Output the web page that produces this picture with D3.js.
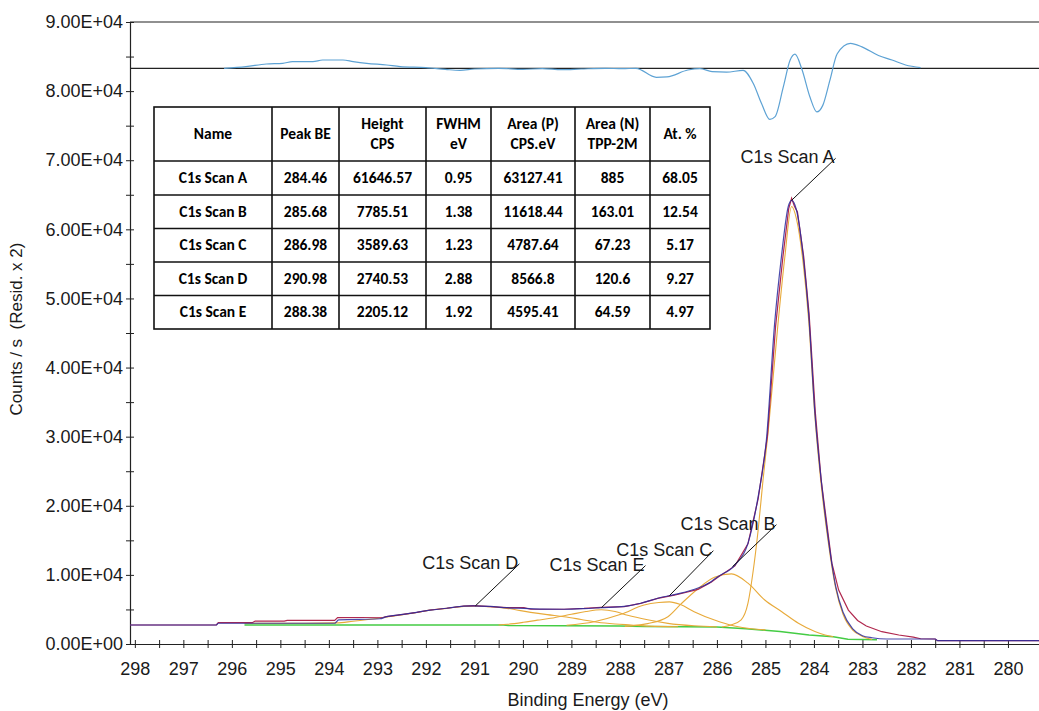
<!DOCTYPE html>
<html>
<head>
<meta charset="utf-8">
<script src="https://cdn.jsdelivr.net/npm/d3@7"></script>
<style>
  body { margin: 0; background: #fff; }
  svg { display: block; font-family: "Liberation Sans", Arial, sans-serif; }
</style>
</head>
<body>
<svg id="chart" width="1039" height="711"></svg>
<script>
// ---- data: [binding energy eV, counts/s] ----
const rawData = [
  [298.10, 2750], [296.32, 2750], [296.28, 3080], [295.58, 3080], [295.52, 3320],
  [294.92, 3320], [294.86, 3420], [293.88, 3420], [293.82, 3830], [292.88, 3870],
  [292.81, 3960], [292.47, 4300], [292.19, 4580], [291.91, 4920], [291.57, 5170],
  [291.22, 5500], [291.02, 5560], [290.67, 5420], [290.33, 5260], [289.98, 5260],
  [289.84, 5030], [289.15, 5030], [288.74, 5150], [288.39, 5310], [287.91, 5400],
  [287.57, 5880], [287.22, 6600], [286.88, 7060], [286.39, 7900], [286.12, 8950],
  [285.98, 9650], [285.63, 11300], [285.36, 14500], [285.15, 21000], [284.96, 30000],
  [284.79, 46000], [284.64, 56000], [284.52, 63000], [284.46, 64500], [284.40, 63300],
  [284.34, 62500], [284.21, 56000], [284.10, 47800], [283.97, 33400], [283.85, 23700],
  [283.63, 11700], [283.49, 7800], [283.29, 4900], [283.10, 3400], [282.92, 2600],
  [282.60, 1780], [282.25, 1300], [281.95, 1000], [281.80, 760], [281.50, 720],
  [281.45, 480], [279.36, 480]
];

const envelope = [
  [298.10, 2750], [296.32, 2750], [296.28, 3000], [293.88, 3000], [293.80, 3500],
  [292.95, 3650], [292.81, 3960], [292.47, 4280], [292.19, 4580], [291.91, 4900],
  [291.57, 5170], [291.22, 5480], [291.02, 5530], [290.67, 5430], [290.33, 5250],
  [289.98, 5150], [289.60, 5050], [289.15, 5030], [288.74, 5120], [288.39, 5260],
  [287.91, 5450], [287.57, 5900], [287.22, 6620], [286.88, 7150], [286.39, 8100],
  [286.12, 9020], [285.98, 9740], [285.63, 11430], [285.36, 14570], [285.15, 21310],
  [284.98, 29520], [284.81, 46400], [284.67, 56040], [284.53, 63280], [284.46, 64200],
  [284.36, 62800], [284.22, 56040], [284.11, 47850], [283.98, 33380], [283.85, 23700],
  [283.70, 15000], [283.55, 8300], [283.40, 4600], [283.20, 2200], [283.00, 1200],
  [282.80, 900], [282.50, 720], [281.50, 720], [281.45, 480], [279.36, 480]
];

const background = [
  [295.74, 2750], [290.40, 2750], [290.30, 2660], [288.00, 2600], [287.50, 2520],
  [286.70, 2480], [286.00, 2450], [285.40, 2200], [284.70, 1800], [284.10, 1300],
  [283.60, 1060], [283.30, 700], [282.70, 600]
];

const compA = [
  [285.90, 2450], [285.70, 2800], [285.50, 3500], [285.36, 5900], [285.26, 10200],
  [285.15, 16500], [285.05, 23700], [284.94, 31000], [284.74, 46400], [284.60, 56000],
  [284.46, 63300], [284.36, 61500], [284.22, 55000], [284.11, 47000], [283.98, 33000],
  [283.85, 23000], [283.70, 14500], [283.55, 8000], [283.40, 4300], [283.20, 2000],
  [283.00, 1100], [282.80, 650]
];
const compB = [
  [287.90, 2550], [287.43, 2950], [287.01, 3950], [286.74, 5800], [286.39, 8000],
  [286.05, 9650], [285.70, 10150], [285.36, 8800], [285.02, 6400], [284.67, 4700],
  [284.32, 3000], [283.98, 1800], [283.77, 1300], [283.60, 1060]
];
const compC = [
  [289.10, 2720], [288.53, 3230], [287.98, 4290], [287.50, 5640], [287.20, 6000],
  [286.98, 6100], [286.75, 5700], [286.47, 4680], [286.05, 3470], [285.64, 2600],
  [285.29, 2200], [285.00, 2050]
];
const compD = [
  [295.74, 3000], [294.50, 3000], [293.84, 3050], [293.50, 3300], [292.90, 3800],
  [292.47, 4250], [292.19, 4550], [291.91, 4900], [291.57, 5150], [291.22, 5450],
  [290.98, 5500], [290.67, 5380], [290.33, 5150], [289.84, 4580], [289.50, 4250],
  [289.15, 3950], [288.80, 3550], [288.46, 3150], [288.10, 2900], [287.77, 2750],
  [287.40, 2580], [286.80, 2490]
];
const compE = [
  [290.50, 2750], [290.32, 2850], [289.99, 3140], [289.70, 3450], [289.43, 3720],
  [289.00, 4300], [288.70, 4700], [288.38, 4950], [288.10, 4700], [287.84, 4150],
  [287.43, 3500], [287.01, 2990], [286.47, 2630], [286.00, 2460]
];

// residual x2, drawn about an offset line
const residOffset = 83300;
const residual = [
  [296.16, 0], [295.71, 250], [295.29, 620], [294.95, 720], [294.75, 970],
  [294.33, 970], [294.13, 1200], [293.71, 1200], [293.50, 970], [293.22, 720],
  [292.81, 480], [292.53, 250], [292.00, 100], [291.60, -150], [291.30, -300],
  [291.00, -100], [290.50, 0], [290.00, -150], [289.60, -50], [289.20, -200],
  [288.80, -100], [288.30, 0], [287.95, -50], [287.67, 0], [287.25, -1300],
  [287.03, -1250], [286.60, -250], [286.35, -50], [286.10, -480], [285.80, -550],
  [285.46, -300], [285.25, -2200], [285.08, -5100], [284.91, -7400], [284.80, -7000],
  [284.63, -2650], [284.49, 1200], [284.39, 2050], [284.25, -100], [284.08, -4200],
  [283.94, -6300], [283.82, -5400], [283.67, -1700], [283.52, 2100], [283.25, 3600],
  [283.01, 3100], [282.67, 1850], [282.39, 1200], [282.11, 480], [281.80, 100]
];

// quantification table
const tableHeader = [["Name"], ["Peak BE"], ["Height", "CPS"], ["FWHM", "eV"],
  ["Area (P)", "CPS.eV"], ["Area (N)", "TPP-2M"], ["At. %"]];
const tableRows = [
  ["C1s Scan A", "284.46", "61646.57", "0.95", "63127.41", "885", "68.05"],
  ["C1s Scan B", "285.68", "7785.51", "1.38", "11618.44", "163.01", "12.54"],
  ["C1s Scan C", "286.98", "3589.63", "1.23", "4787.64", "67.23", "5.17"],
  ["C1s Scan D", "290.98", "2740.53", "2.88", "8566.8", "120.6", "9.27"],
  ["C1s Scan E", "288.38", "2205.12", "1.92", "4595.41", "64.59", "4.97"]
];

const xTicks = d3.range(298, 279.9, -0.5);
const yTicks = d3.range(0, 90001, 5000);

// ---- layout ----
const width = 1039, height = 711;
const margin = { top: 22, right: 0, bottom: 67, left: 130 };

// leader offsets (px) per peak label
const leader = { "C1s Scan A": [44, -42], "C1s Scan B": [44, -42], "C1s Scan C": [44, -45],
  "C1s Scan D": [44, -42], "C1s Scan E": [44, -42] };

const svg = d3.select("#chart");

const x = d3.scaleLinear()
  .domain([298.1, 279.36])
  .range([margin.left, width - margin.right]);

const y = d3.scaleLinear()
  .domain([0, 90000])
  .range([height - margin.bottom, margin.top]);

const fmtE = d => {
  if (d === 0) return "0.00E+00";
  const e = Math.floor(Math.log10(d));
  return (d / Math.pow(10, e)).toFixed(2) + "E+" + String(e).padStart(2, "0");
};

// frame top and residual zero line
svg.append("line")
  .attr("x1", margin.left).attr("x2", width)
  .attr("y1", y(90000)).attr("y2", y(90000))
  .attr("stroke", "#222").attr("stroke-width", 1.2);

svg.append("line")
  .attr("x1", margin.left).attr("x2", width)
  .attr("y1", y(residOffset)).attr("y2", y(residOffset))
  .attr("stroke", "#222").attr("stroke-width", 1.2);

// axes
const xAxis = g => g
  .attr("transform", `translate(0,${y(0)})`)
  .call(d3.axisBottom(x).tickValues(xTicks)
    .tickFormat(d => Number.isInteger(d) ? d : "")
    .tickSizeInner(4).tickSizeOuter(0).tickPadding(14))
  .attr("font-size", 18)
  .attr("font-family", null)
  .call(g => g.select(".domain").attr("stroke", "#222").attr("stroke-width", 1.2))
  .call(g => g.selectAll(".tick line").attr("y1", -4).attr("y2", 4).attr("stroke", "#222"))
  .call(g => g.selectAll(".tick text").attr("fill", "#1a1a1a"));

const yAxis = g => g
  .attr("transform", `translate(${margin.left},0)`)
  .call(d3.axisLeft(y).tickValues(yTicks)
    .tickFormat(d => d % 10000 === 0 ? fmtE(d) : "")
    .tickSizeInner(4).tickSizeOuter(0).tickPadding(3))
  .attr("font-size", 18)
  .attr("font-family", null)
  .call(g => g.select(".domain").attr("stroke", "#222").attr("stroke-width", 1.2))
  .call(g => g.selectAll(".tick line").attr("x1", -4).attr("x2", 4).attr("stroke", "#222"))
  .call(g => g.selectAll(".tick text").attr("fill", "#1a1a1a"));

svg.append("g").call(xAxis);
svg.append("g").call(yAxis);

svg.append("text")
  .attr("x", 588).attr("y", 706)
  .attr("text-anchor", "middle")
  .attr("font-size", 18)
  .attr("fill", "#1a1a1a")
  .text("Binding Energy (eV)");

svg.append("text")
  .attr("transform", "translate(22,329) rotate(-90)")
  .attr("text-anchor", "middle")
  .attr("font-size", 17)
  .attr("fill", "#1a1a1a")
  .attr("xml:space", "preserve")
  .text("Counts / s  (Resid. x 2)");

// curves
const line = d3.line().x(d => x(d[0])).y(d => y(d[1]));
const smooth = d3.line().x(d => x(d[0])).y(d => y(d[1])).curve(d3.curveMonotoneX);

svg.append("path").datum(background)
  .attr("fill", "none").attr("stroke", "#44cc44").attr("stroke-width", 1.5)
  .attr("d", line);

[compD, compE, compC, compB, compA].forEach(c => {
  svg.append("path").datum(c)
    .attr("fill", "none").attr("stroke", "#e8aa3a").attr("stroke-width", 1.1)
    .attr("d", smooth);
});

svg.append("path").datum(rawData)
  .attr("fill", "none").attr("stroke", "#b0284e").attr("stroke-width", 1.2)
  .attr("d", line);

svg.append("path").datum(envelope)
  .attr("fill", "none").attr("stroke", "#2a2a9e").attr("stroke-width", 1.2)
  .attr("stroke-opacity", 0.85)
  .attr("d", smooth);

svg.append("path").datum(residual.map(d => [d[0], d[1] + residOffset]))
  .attr("fill", "none").attr("stroke", "#5da2d4").attr("stroke-width", 1.2)
  .attr("d", smooth);

// peak labels: leader from envelope at the peak BE
const bisect = d3.bisector(d => -d[0]).left;
const envAt = be => {
  const i = bisect(envelope, -be);
  const a = envelope[i - 1], b = envelope[i];
  const t = (be - a[0]) / (b[0] - a[0]);
  return a[1] + t * (b[1] - a[1]);
};

tableRows.forEach(r => {
  const be = +r[1];
  const px = x(be), py = y(envAt(be));
  const [dx, dy] = leader[r[0]];
  const lx = px + dx, ly = py + dy;
  svg.append("line")
    .attr("x1", px).attr("y1", py).attr("x2", lx).attr("y2", ly)
    .attr("stroke", "#111").attr("stroke-width", 1);
  svg.append("text")
    .attr("x", lx - 1).attr("y", ly + 5)
    .attr("text-anchor", "end")
    .attr("font-size", 18)
    .attr("fill", "#1a1a1a")
    .text(r[0]);
});

// table
const colX = [154, 272, 339, 426, 491, 575, 650, 710];
const rowY = [107, 161, 195, 228.5, 262, 295.5, 329];

const table = svg.append("g")
  .attr("font-family", "Carlito, 'Liberation Sans Narrow', Lato, sans-serif")
  .attr("font-weight", "bold")
  .attr("font-size", 15.5)
  .attr("fill", "#000")
  .attr("text-anchor", "middle");

table.append("rect")
  .attr("x", colX[0]).attr("y", rowY[0])
  .attr("width", colX[7] - colX[0]).attr("height", rowY[6] - rowY[0])
  .attr("fill", "#fff").attr("stroke", "#111").attr("stroke-width", 1.6);

colX.slice(1, -1).forEach(cx => table.append("line")
  .attr("x1", cx).attr("x2", cx).attr("y1", rowY[0]).attr("y2", rowY[6])
  .attr("stroke", "#111").attr("stroke-width", 1.6));
rowY.slice(1, -1).forEach(ry => table.append("line")
  .attr("x1", colX[0]).attr("x2", colX[7]).attr("y1", ry).attr("y2", ry)
  .attr("stroke", "#111").attr("stroke-width", 1.6));

tableHeader.forEach((h, i) => {
  const cx = (colX[i] + colX[i + 1]) / 2;
  const cy = (rowY[0] + rowY[1]) / 2;
  h.forEach((t, j) => {
    table.append("text")
      .attr("x", cx)
      .attr("y", cy + 5 + (j - (h.length - 1) / 2) * 20)
      .text(t);
  });
});

tableRows.forEach((r, ri) => {
  const cy = (rowY[ri + 1] + rowY[ri + 2]) / 2;
  r.forEach((t, i) => {
    table.append("text")
      .attr("x", (colX[i] + colX[i + 1]) / 2)
      .attr("y", cy + 5)
      .text(t);
  });
});
</script>
</body>
</html>
